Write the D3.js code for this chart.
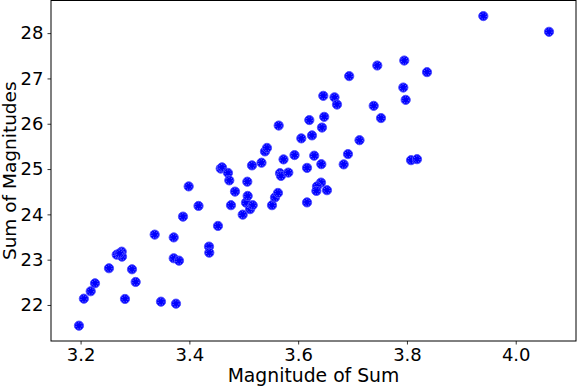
<!DOCTYPE html>
<html>
<head>
<meta charset="utf-8">
<script src="https://cdn.jsdelivr.net/npm/d3@7"></script>
<style>
  html, body { margin: 0; padding: 0; background: #fff; }
  svg { display: block; }
  text { font-family: "DejaVu Sans", sans-serif; fill: #000; }
</style>
</head>
<body>
<div id="chart"></div>
<script>
// Data: Magnitude of Sum (x) vs Sum of Magnitudes (y)
const magnitudeOfSum = [
  3.197, 3.206, 3.2186, 3.2265, 3.2522, 3.2664, 3.2756, 3.2761, 3.2715, 3.2945,
  3.3013, 3.2816, 3.3362, 3.3478, 3.3712, 3.3712, 3.3809, 3.3754, 3.3883, 3.3987,
  3.4168, 3.4361, 3.4366, 3.4526, 3.4576, 3.4600, 3.4710, 3.4734, 3.4765, 3.4839,
  3.4980, 3.5041, 3.5065, 3.5072, 3.5115, 3.5164, 3.5151, 3.5326, 3.5390, 3.5427,
  3.5519, 3.5574, 3.5629, 3.5642, 3.5666, 3.5684, 3.5731, 3.5819, 3.5933, 3.6058,
  3.6163, 3.6163, 3.6205, 3.6254, 3.6295, 3.6420, 3.6346, 3.6335, 3.6530, 3.6426,
  3.6438, 3.6462, 3.6479, 3.6668, 3.6714, 3.6837, 3.6916, 3.6938, 3.7128, 3.7389,
  3.7455, 3.7523, 3.7933, 3.7951, 3.7977, 3.8075, 3.8185, 3.8369, 3.9404, 4.0612
];
const sumOfMagnitudes = [
  21.543, 22.139, 22.303, 22.479, 22.811, 23.111, 23.177, 23.067, 23.137, 22.788,
  22.508, 22.133, 23.553, 22.073, 23.491, 23.031, 22.978, 22.029, 23.950, 24.617,
  24.186, 23.288, 23.155, 23.745, 25.010, 25.037, 24.915, 24.750, 24.202, 24.502,
  23.994, 24.259, 24.721, 24.407, 24.114, 24.202, 25.081, 25.140, 25.390, 25.467,
  24.202, 24.374, 24.473, 25.960, 24.909, 24.849, 25.213, 24.922, 25.308, 25.677,
  25.026, 24.264, 26.081, 25.743, 25.295, 24.701, 24.617, 24.518, 24.533, 25.107,
  25.916, 26.616, 26.152, 26.583, 26.424, 25.103, 25.330, 27.051, 25.637, 26.395,
  27.285, 26.125, 26.799, 27.395, 26.527, 25.196, 25.218, 27.139, 28.376, 28.029
];
const xTickValues = [3.2, 3.4, 3.6, 3.8, 4.0];
const yTickValues = [22, 23, 24, 25, 26, 27, 28];
const xLabel = "Magnitude of Sum";
const yLabel = "Sum of Magnitudes";

const points = magnitudeOfSum.map((x, i) => ({ x, y: sumOfMagnitudes[i] }));

const W = 578, H = 388;
const plot = { left: 51, right: 576, top: 0.5, bottom: 341 };

const svg = d3.select("#chart").append("svg")
  .attr("width", W).attr("height", H);

const x = d3.scaleLinear().domain([3.1456, 4.1108]).range([plot.left, plot.right]);
const y = d3.scaleLinear().domain([21.205, 28.72]).range([plot.bottom, plot.top]);

// Points
const g = svg.append("g");
const pts = g.selectAll("g.pt").data(points).enter().append("g").attr("class", "pt")
  .attr("transform", d => `translate(${x(d.x)},${y(d.y)})`);
pts.append("circle").attr("r", 4.6)
  .attr("fill", "#0000ff").attr("stroke", "#5050ff").attr("stroke-width", 1);
pts.append("circle").attr("r", 3.0)
  .attr("fill", "none").attr("stroke", "#ffffff").attr("stroke-width", 0.6)
  .attr("stroke-dasharray", "1,1.6").attr("opacity", 0.8);

// Axes
const xAxis = d3.axisBottom(x).tickValues(xTickValues).tickFormat(d3.format(".1f"))
  .tickSizeInner(3.5).tickSizeOuter(0).tickPadding(4);
const yAxis = d3.axisLeft(y).tickValues(yTickValues).tickFormat(d3.format("d"))
  .tickSizeInner(3.5).tickSizeOuter(0).tickPadding(4);

const gx = svg.append("g").attr("transform", `translate(0,${plot.bottom})`).call(xAxis);
const gy = svg.append("g").attr("transform", `translate(${plot.left},0)`).call(yAxis);
[gx, gy].forEach(a => {
  a.select(".domain").remove();
  a.selectAll(".tick line").attr("stroke", "#000").attr("stroke-width", 0.8);
  a.selectAll(".tick text").attr("font-size", 18).attr("font-family", "DejaVu Sans").attr("fill", "#000");
});

// Frame (spines)
svg.append("rect")
  .attr("x", plot.left).attr("y", plot.top)
  .attr("width", plot.right - plot.left).attr("height", plot.bottom - plot.top)
  .attr("fill", "none").attr("stroke", "#000").attr("stroke-width", 1);

// Labels
svg.append("text")
  .attr("x", (plot.left + plot.right) / 2).attr("y", 382)
  .attr("text-anchor", "middle").attr("font-size", 18.8)
  .text(xLabel);
svg.append("text")
  .attr("transform", `translate(16,${(plot.top + plot.bottom) / 2}) rotate(-90)`)
  .attr("text-anchor", "middle").attr("font-size", 18.5)
  .text(yLabel);
</script>
</body>
</html>
